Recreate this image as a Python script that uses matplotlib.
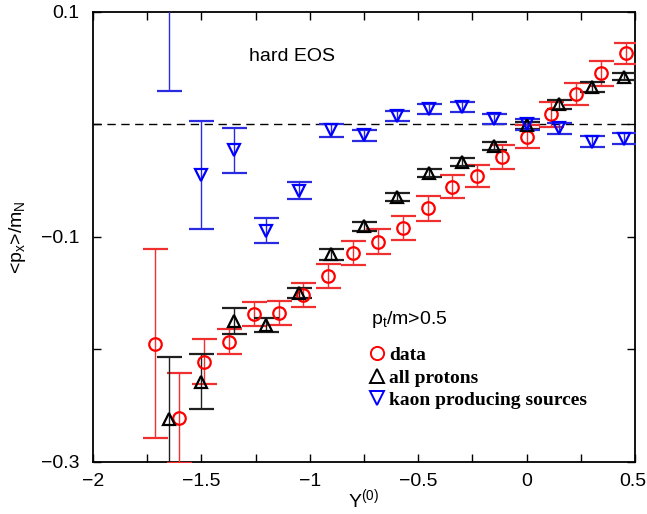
import matplotlib
matplotlib.use("Agg")
import matplotlib.pyplot as plt
import matplotlib.transforms as mtransforms
from matplotlib.lines import Line2D
from matplotlib.ticker import MultipleLocator, FixedLocator, FixedFormatter

plt.rcParams['font.family'] = ['Liberation Sans', 'DejaVu Sans']
plt.rcParams['mathtext.fontset'] = 'custom'
plt.rcParams['mathtext.rm'] = 'Liberation Sans'
plt.rcParams['mathtext.it'] = 'Liberation Sans'

# measured sideward flow (red circles)
data_y0 = [-1.714, -1.602, -1.487, -1.372, -1.258, -1.143, -1.030, -0.915, -0.800, -0.684,
           -0.572, -0.457, -0.343, -0.231, -0.114, 0.000, 0.112, 0.227, 0.343, 0.458]
data_px = [-0.1953, -0.2616, -0.2112, -0.1934, -0.1688, -0.1682, -0.1519, -0.1350, -0.1148, -0.1044,
           -0.0920, -0.0747, -0.0555, -0.0460, -0.0294, -0.0110, 0.0089, 0.0270, 0.0454, 0.0632]
data_err = [0.084, 0.040, 0.020, 0.0112, 0.0108, 0.0108, 0.0104, 0.0107, 0.0107, 0.0110,
            0.0107, 0.0110, 0.0104, 0.0102, 0.0108, 0.0100, 0.0110, 0.0096, 0.0110, 0.0095]

# calculation: all protons (black up-triangles)
prot_y0 = [-1.65, -1.50, -1.35, -1.20, -1.05, -0.90, -0.75, -0.60, -0.45, -0.30, -0.15, 0.00, 0.15, 0.30, 0.45]
prot_px = [-0.262, -0.229, -0.175, -0.1786, -0.1498, -0.1154, -0.0905, -0.0644, -0.0430, -0.0333,
           -0.0190, -0.0010, 0.0180, 0.0330, 0.0424]
prot_err = [0.055, 0.0245, 0.0115, 0.0060, 0.0046, 0.0049, 0.0040, 0.0035, 0.0036, 0.0035,
            0.0035, 0.0030, 0.0040, 0.0045, 0.0030]

# calculation: kaon producing sources (blue down-triangles)
kaon_y0 = [-1.65, -1.50, -1.35, -1.20, -1.05, -0.90, -0.75, -0.60, -0.45, -0.30, -0.15, 0.00, 0.15, 0.30, 0.45]
kaon_px = [0.125, -0.045, -0.0233, -0.0945, -0.059, -0.0055, -0.0097, 0.0074, 0.0133, 0.0155,
           0.0044, 0.0000, -0.0036, -0.0155, -0.0127]
kaon_err = [0.095, 0.048, 0.0197, 0.0115, 0.0073, 0.0057, 0.0048, 0.0047, 0.0044, 0.0046,
            0.0044, 0.0050, 0.0047, 0.0047, 0.0047]

x_ticks = [-2, -1.5, -1, -0.5, 0, 0.5]
x_tick_labels = ['\u22122', '\u22121.5', '\u22121', '\u22120.5', '0', '0.5']
y_ticks = [-0.3, -0.1, 0.1]
y_tick_labels = ['\u22120.3', '\u22120.1', '0.1']

fig = plt.figure(figsize=(6.47, 5.14), dpi=100)
ax = fig.add_axes([93 / 647, 1 - 461.5 / 514, 542 / 647, 449.6 / 514])

ax.axhline(0.0, color='black', lw=1.0, ls=(0, (6, 4)), zorder=1)

series = [
    (data_y0, data_px, data_err, 'o', '#ff0000', '#f03030', 'data'),
    (prot_y0, prot_px, prot_err, '^', 'black', '#202020', 'all protons'),
    (kaon_y0, kaon_px, kaon_err, 'v', '#0000ff', '#2a2ae0', 'kaon producing sources'),
]
for xs, ys, es, mk, col, ecol, lab in series:
    ax.errorbar(xs, ys, yerr=es, fmt=mk, ms=9, mfc='none', mec=col, mew=1.6,
                ecolor=ecol, elinewidth=1.0, capsize=9, capthick=1.0, zorder=3)

ax.set_xlim(-2, 0.5)
ax.set_ylim(-0.3, 0.1)
ax.xaxis.set_major_locator(FixedLocator(x_ticks))
ax.xaxis.set_major_formatter(FixedFormatter(x_tick_labels))
ax.xaxis.set_minor_locator(MultipleLocator(0.25))
ax.yaxis.set_major_locator(FixedLocator(y_ticks))
ax.yaxis.set_major_formatter(FixedFormatter(y_tick_labels))
ax.yaxis.set_minor_locator(MultipleLocator(0.1))
ax.tick_params(which='both', direction='in', top=True, right=True, labelsize=14,
               width=1.0, length=6)
ax.tick_params(axis='x', which='major', pad=8)
ax.tick_params(axis='y', which='major', pad=10)
for sp in ax.spines.values():
    sp.set_linewidth(1.3)

# keep the rightmost tick label inside the canvas
fig.canvas.draw()
last = ax.get_xticklabels()[-1]
last.set_transform(last.get_transform() +
                   mtransforms.ScaledTranslation(-2.5 / 100, 0, fig.dpi_scale_trans))

ax.set_xlabel('Y$^{(0)}$', fontsize=14, labelpad=-1.5)
ax.set_ylabel('<p$_x$>/m$_N$', fontsize=14, labelpad=9)

ax.text(-1.28, 0.06, 'hard EOS', fontsize=14, va='center', ha='left')

handles = [Line2D([], [], ls='none', marker=s[3], ms=9.5, mfc='none', mec=s[4], mew=1.4)
           for s in series]
labels = [s[6] for s in series]
leg = ax.legend(handles, labels, loc='upper left', bbox_to_anchor=(0.512, 0.34),
                frameon=False, title='p$_t$/m>0.5', alignment='left',
                handlelength=0.7, handletextpad=0.25, labelspacing=0.26, borderpad=0,
                borderaxespad=0,
                prop={'family': 'Liberation Serif', 'weight': 'bold', 'size': 14},
                title_fontproperties={'family': 'Liberation Sans', 'size': 14})
leg._legend_box.sep = 12

fig.savefig('out.png', dpi=100)
